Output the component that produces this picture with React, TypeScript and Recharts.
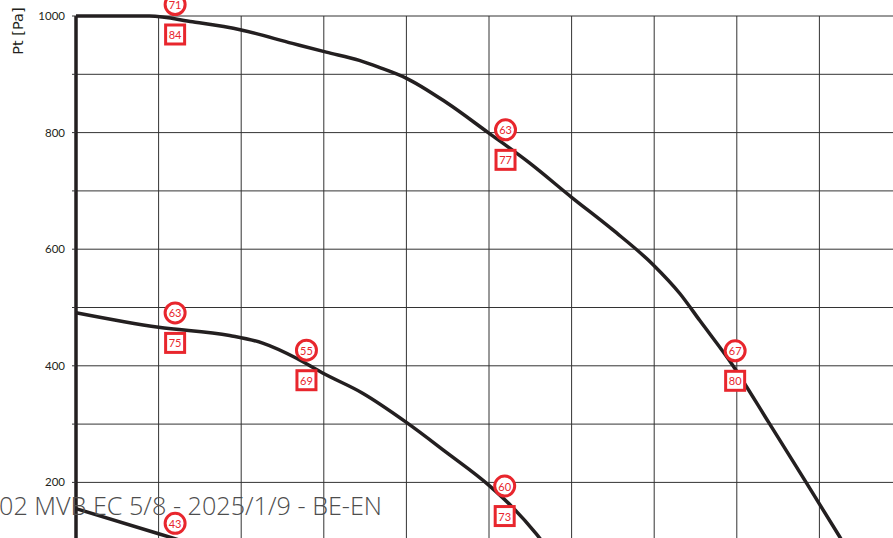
import React from 'react';
import { ComposedChart, Line, Scatter, XAxis, YAxis, CartesianGrid } from 'recharts';

// airflow grid (m³/h) and pressure ticks (Pa)
const flowTicks = [0, 100, 200, 300, 400, 500, 600, 700, 800, 900, 1000];
const pressureTicks = [0, 100, 200, 300, 400, 500, 600, 700, 800, 900, 1000];

// left boundary of the working range
const limitFlow = [0, 0];
const limitPressure = [1000, 0];

// max speed curve
const highFlow = [0, 89, 141, 200, 262, 303, 343, 367, 399, 448, 499, 549, 600, 650, 699, 731, 755, 795, 839, 876, 924, 955];
const highPressure = [1000, 1000, 990, 976, 953, 938, 924, 912, 894, 852, 800, 748, 689, 633, 573, 524, 478, 401, 302, 218, 108, 35];

// mid speed curve
const midFlow = [0, 100, 186, 226, 267, 298, 347, 400, 448, 500, 528, 557, 585];
const midPressure = [491, 466, 452, 439, 413, 388, 353, 303, 252, 195, 158, 112, 60];

// min speed curve
const lowFlow = [0, 100, 160];
const lowPressure = [155, 112, 86];

// acoustic markers: circle = sound power, square = sound pressure level
const markerFlow = [120, 520, 798, 120, 279, 519, 120];
const markerPressure = [994, 779, 400, 465, 401, 168, 104];
const markerCircle = ['71', '63', '67', '63', '55', '60', '43'];
const markerSquare = ['84', '77', '80', '75', '69', '73', ''];

const zip = (xs: number[], ys: number[]) => xs.map((x, i) => ({ x, y: ys[i] }));

const limitData = zip(limitFlow, limitPressure);
const highData = zip(highFlow, highPressure);
const midData = zip(midFlow, midPressure);
const lowData = zip(lowFlow, lowPressure);
const markerData = markerFlow.map((x, i) => ({
  x,
  y: markerPressure[i],
  circle: markerCircle[i],
  square: markerSquare[i],
}));

const RED = '#e8262d';
const INK = '#231f20';

const Marker = (props: any) => {
  const { cx, cy, payload } = props;
  return (
    <g>
      <circle cx={cx} cy={cy - 15} r={10} fill="#fff" stroke={RED} strokeWidth={3} />
      <text x={cx} y={cy - 15} textAnchor="middle" dominantBaseline="central" fontSize={11} fontFamily="Lato" fill={RED}>
        {payload.circle}
      </text>
      {payload.square !== '' && (
        <g>
          <rect x={cx - 9.5} y={cy + 5.5} width={19} height={19} fill="#fff" stroke={RED} strokeWidth={3} />
          <text x={cx} y={cy + 15} textAnchor="middle" dominantBaseline="central" fontSize={11} fontFamily="Lato" fill={RED}>
            {payload.square}
          </text>
        </g>
      )}
    </g>
  );
};

const App: React.FC = () => {
  return (
    <div style={{ position: 'absolute', left: 0, top: 0, width: 893, height: 538, overflow: 'hidden', background: '#fff' }}>
      <ComposedChart width={903} height={619} margin={{ top: 16, right: 1, bottom: 20, left: 0 }}>
        <CartesianGrid stroke="#333" strokeWidth={1} />
        <XAxis dataKey="x" type="number" domain={[0, 1000]} ticks={flowTicks} hide />
        <YAxis
          type="number"
          domain={[0, 1000]}
          ticks={pressureTicks}
          width={76}
          axisLine={false}
          tickSize={4}
          tickMargin={7}
          tickLine={{ stroke: '#333' }}
          tick={{ fontSize: 11.5, fontFamily: 'Lato', fill: INK }}
          tickFormatter={(v: number) => (v % 200 === 0 && v > 0 ? String(v) : '')}
        />
        <Line data={limitData} dataKey="y" type="linear" stroke={INK} strokeWidth={3.5} dot={false} isAnimationActive={false} />
        <Line data={highData} dataKey="y" type="monotone" stroke={INK} strokeWidth={3.5} dot={false} isAnimationActive={false} />
        <Line data={midData} dataKey="y" type="monotone" stroke={INK} strokeWidth={3.5} dot={false} isAnimationActive={false} />
        <Line data={lowData} dataKey="y" type="monotone" stroke={INK} strokeWidth={3.5} dot={false} isAnimationActive={false} />
        <Scatter data={markerData} dataKey="y" shape={Marker} isAnimationActive={false} />
      </ComposedChart>
      <svg width={40} height={70} style={{ position: 'absolute', left: 0, top: 0 }}>
        <text
          x={0}
          y={0}
          transform="translate(23 31) rotate(-90)"
          textAnchor="middle"
          fontFamily="DejaVu Sans"
          fontSize={14.5}
          fill={INK}
        >
          Pt [Pa]
        </text>
      </svg>
      <div
        style={{
          position: 'absolute',
          left: -1,
          top: 493,
          whiteSpace: 'nowrap',
          fontFamily: '"Open Sans"',
          fontWeight: 300,
          fontSize: 25.2,
          lineHeight: '25.2px',
          color: '#4d4d4d',
        }}
      >
        02 MVB EC 5/8 - 2025/1/9 - BE-EN
      </div>
    </div>
  );
};

export default App;
